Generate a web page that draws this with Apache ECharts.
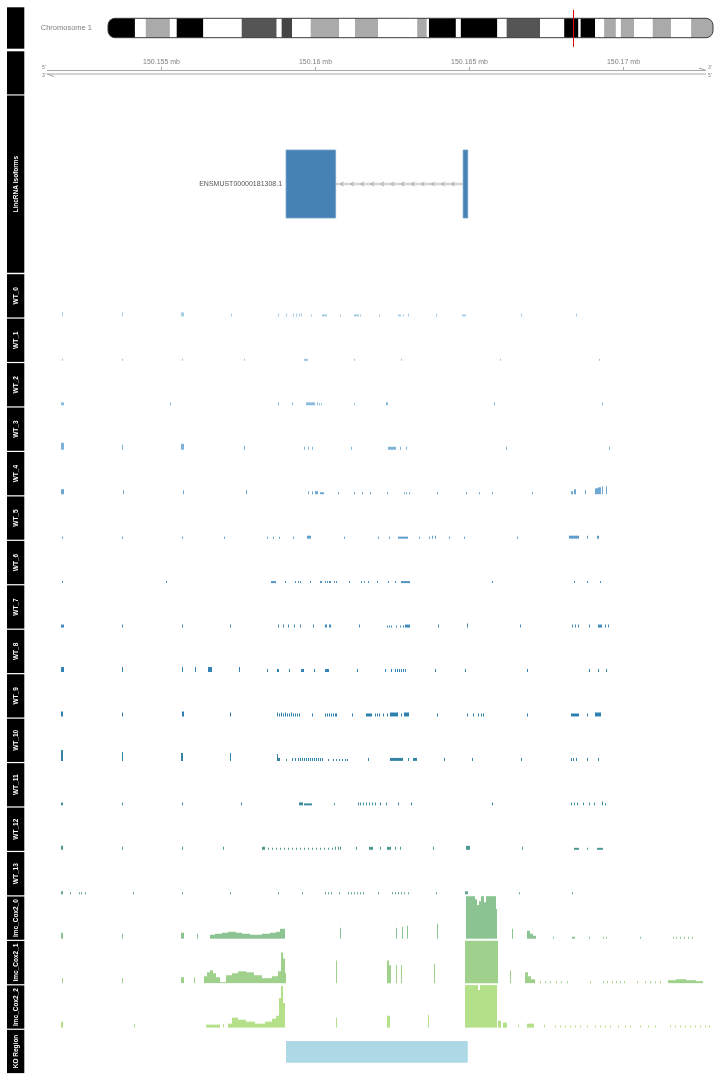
<!DOCTYPE html>
<html><head><meta charset="utf-8">
<script src="https://cdn.jsdelivr.net/npm/echarts@6/dist/echarts.min.js"></script>
<style>html,body{margin:0;padding:0;background:#fff}#c{width:720px;height:1080px}</style>
</head><body><div id="c"></div>
<script>
// ---------- data (genomic positions in kb on chromosome 1) ----------
const X_MIN = 150151.233, X_MAX = 150172.826;
const AXIS_TICKS = [150155, 150160, 150165, 150170];
const CHROM_NAME = 'Chromosome 1';
const CHROM_LEN = 195.47; // Mb
const CHROM_BANDS = [
 [0,8.7,'gpos100'],[8.7,12.2,'gneg'],[12.2,20.0,'gpos33'],[20.0,22.2,'gneg'],[22.2,30.8,'gpos100'],
 [30.8,43.2,'gneg'],[43.2,54.5,'gpos66'],[54.5,56.1,'gneg'],[56.1,59.5,'gpos75'],[59.5,65.5,'gneg'],
 [65.5,74.7,'gpos33'],[74.7,79.8,'gneg'],[79.8,87.3,'gpos33'],[87.3,99.9,'gneg'],[99.9,103.0,'gpos33'],
 [103.0,103.7,'gneg'],[103.7,112.4,'gpos100'],[112.4,114.0,'gneg'],[114.0,125.8,'gpos100'],[125.8,128.8,'gneg'],
 [128.8,139.6,'gpos66'],[139.6,147.4,'gneg'],[147.4,152.0,'gpos100'],[152.0,152.7,'gneg'],[152.7,157.4,'gpos100'],
 [157.4,160.3,'gneg'],[160.3,164.1,'gpos33'],[164.1,165.7,'gneg'],[165.7,170.0,'gpos33'],[170.0,176.0,'gneg'],
 [176.0,181.9,'gpos33'],[181.9,188.4,'gneg'],[188.4,195.47,'gpos33']
];
const CURRENT_POS_MB = 150.16;
const GENE_TRACK_TITLE = 'LincRNA Isoforms';
const TRANSCRIPT_ID = 'ENSMUST00000181308.1';
const EXONS = [[150159.06,150160.67],[150164.81,150164.96]];
const KO_TITLE = 'KO Region';
const KO_REGION = [150159.06,150164.96];

const WT_0 = [[150151.79,4],[150153.73,4],[150155.65,150155.75,4],[150157.27,3],[150158.80,3],[150159.06,3],[150159.29,3],[150159.38,3],[150159.48,3],[150159.55,3],[150159.87,2],[150160.23,150160.39,2],[150160.81,2],[150161.27,150161.43,2],[150161.46,2],[150162.08,2],[150162.70,150162.79,2],[150162.86,2],[150163.02,3],[150163.93,3],[150164.77,150164.90,2],[150166.69,3],[150168.48,3]];
const WT_1 = [[150151.79,2],[150153.73,2],[150155.68,2],[150157.70,2],[150159.64,150159.77,2],[150161.27,2],[150162.79,2],[150166.01,2],[150169.22,2]];
const WT_2 = [[150151.75,150151.85,3],[150155.29,3],[150158.80,3],[150159.25,3],[150159.71,150160.00,3],[150160.07,3],[150160.13,2],[150160.20,2],[150161.27,2],[150162.31,150162.37,3],[150165.81,3],[150169.32,3]];
const WT_3 = [[150151.75,150151.85,7],[150153.73,5],[150155.65,150155.75,6],[150157.70,4],[150159.64,3],[150159.77,3],[150159.90,3],[150161.17,3],[150162.37,150162.63,3],[150162.76,3],[150162.96,3],[150166.23,3],[150169.55,3]];
const WT_4 = [[150151.75,150151.85,5],[150153.77,4],[150155.71,4],[150157.76,4],[150159.77,3],[150159.90,3],[150160.00,150160.10,3],[150160.16,150160.29,2],[150160.75,2],[150161.27,2],[150161.53,2],[150161.79,2],[150162.34,2],[150162.89,2],[150162.96,2],[150163.05,2],[150163.96,2],[150164.90,2],[150165.33,2],[150165.75,2],[150167.05,2],[150168.31,150168.38,3],[150168.41,150168.48,5],[150168.77,4],[150169.09,150169.19,6],[150169.19,150169.29,7],[150169.32,8],[150169.45,8]];
const WT_5 = [[150151.79,2],[150153.73,2],[150155.68,2],[150157.05,2],[150158.44,2],[150158.64,2],[150158.83,2],[150159.29,2],[150159.74,150159.87,3],[150160.94,2],[150162.05,2],[150162.40,2],[150162.70,150163.02,2],[150163.38,2],[150163.70,2],[150163.80,3],[150163.90,3],[150164.35,2],[150164.84,2],[150166.56,2],[150168.25,150168.57,3],[150168.83,3],[150169.16,150169.22,3]];
const WT_6 = [[150151.79,2],[150155.19,2],[150158.57,150158.73,2],[150159.03,2],[150159.35,2],[150159.45,2],[150159.51,2],[150159.84,2],[150160.16,150160.23,2],[150160.33,2],[150160.39,2],[150160.46,150160.52,2],[150160.62,2],[150160.71,2],[150161.10,2],[150161.49,2],[150161.59,2],[150161.72,2],[150162.01,2],[150162.37,2],[150162.60,2],[150162.79,150163.08,2],[150165.75,2],[150168.41,2],[150168.83,2],[150169.25,2]];
const WT_7 = [[150151.75,150151.85,3],[150153.73,3],[150155.68,3],[150157.24,3],[150158.80,3],[150158.96,3],[150159.12,3],[150159.32,3],[150159.51,3],[150159.94,3],[150160.33,150160.39,3],[150160.46,150160.52,3],[150161.43,3],[150162.34,2],[150162.40,2],[150162.47,2],[150162.63,2],[150162.76,2],[150162.86,2],[150162.92,150163.08,3],[150163.99,3],[150164.94,4],[150166.66,3],[150168.35,3],[150168.44,3],[150168.54,3],[150168.90,3],[150169.19,150169.32,3],[150169.42,3],[150169.51,3]];
const WT_8 = [[150151.75,150151.85,5],[150153.73,5],[150155.68,5],[150156.10,5],[150156.53,150156.66,5],[150157.53,5],[150158.44,3],[150158.77,150158.83,3],[150159.16,3],[150159.55,150159.64,3],[150159.97,3],[150160.33,150160.46,3],[150161.36,3],[150162.27,3],[150162.47,3],[150162.60,3],[150162.66,3],[150162.73,3],[150162.79,3],[150162.86,3],[150162.92,3],[150163.90,3],[150164.87,3],[150166.88,3],[150168.90,3],[150169.19,3],[150169.45,3]];
const WT_9 = [[150151.75,150151.82,5],[150153.73,4],[150155.68,150155.75,5],[150157.24,4],[150158.77,4],[150158.83,3],[150158.90,4],[150158.96,3],[150159.03,4],[150159.09,3],[150159.16,3],[150159.22,4],[150159.29,3],[150159.35,3],[150159.42,3],[150159.48,3],[150159.90,3],[150160.33,3],[150160.39,3],[150160.46,3],[150160.52,3],[150160.59,3],[150160.65,3],[150160.71,3],[150161.20,3],[150161.66,150161.85,3],[150161.95,3],[150162.01,3],[150162.08,3],[150162.21,3],[150162.34,3],[150162.44,150162.70,4],[150162.79,3],[150162.89,150163.05,4],[150163.96,3],[150164.94,3],[150165.13,3],[150165.29,3],[150165.39,3],[150165.46,3],[150166.88,3],[150168.31,150168.57,3],[150168.83,3],[150169.09,150169.29,4]];
const WT_10 = [[150151.75,150151.82,11],[150153.73,9],[150155.65,150155.72,8],[150157.24,8],[150158.77,7],[150158.80,150158.86,3],[150159.06,2],[150159.25,3],[150159.35,3],[150159.45,3],[150159.51,3],[150159.58,3],[150159.64,3],[150159.71,3],[150159.77,3],[150159.84,3],[150159.90,3],[150159.97,3],[150160.03,3],[150160.10,3],[150160.16,3],[150160.23,3],[150160.42,2],[150160.59,2],[150160.68,2],[150160.78,2],[150160.88,2],[150160.97,2],[150161.04,2],[150161.72,3],[150162.44,150162.86,3],[150163.02,3],[150163.18,150163.31,3],[150164.19,3],[150165.10,3],[150166.69,3],[150168.31,3],[150168.38,3],[150168.48,3],[150168.86,3],[150169.19,3]];
const WT_11 = [[150151.75,150151.82,3],[150153.73,3],[150155.68,3],[150157.60,3],[150159.48,150159.61,3],[150159.64,150159.90,2],[150160.62,2],[150161.40,3],[150161.46,3],[150161.56,3],[150161.66,3],[150161.75,3],[150161.85,3],[150161.95,3],[150162.11,3],[150162.31,3],[150162.70,3],[150163.12,3],[150165.75,3],[150168.31,3],[150168.41,3],[150168.51,3],[150168.70,3],[150168.90,3],[150169.06,3],[150169.32,4],[150169.42,2]];
const WT_12 = [[150151.75,150151.82,4],[150153.73,3],[150155.68,3],[150157.01,3],[150158.28,150158.38,3],[150158.47,2],[150158.60,2],[150158.73,2],[150158.86,2],[150158.99,2],[150159.12,2],[150159.25,2],[150159.38,2],[150159.51,2],[150159.64,2],[150159.77,2],[150159.90,2],[150160.03,2],[150160.16,2],[150160.29,2],[150160.42,2],[150160.55,2],[150160.65,3],[150160.75,3],[150160.84,3],[150161.33,3],[150161.75,150161.88,3],[150162.11,3],[150162.34,150162.47,3],[150162.60,3],[150162.76,3],[150163.83,3],[150164.90,150165.03,4],[150166.72,3],[150168.41,150168.57,2],[150168.86,2],[150169.16,150169.35,2]];
const WT_13 = [[150151.75,150151.82,3],[150152.05,2],[150152.34,2],[150152.43,2],[150152.53,2],[150154.09,2],[150155.68,2],[150157.24,2],[150158.80,2],[150159.58,2],[150160.33,2],[150160.42,2],[150160.52,2],[150160.78,2],[150161.07,2],[150161.17,2],[150161.27,2],[150161.36,2],[150161.46,2],[150161.56,2],[150162.05,2],[150162.50,2],[150162.60,2],[150162.70,2],[150162.79,2],[150162.89,2],[150163.02,2],[150163.93,2],[150164.87,150164.97,3],[150166.62,2],[150168.35,2]];
const LMC_COX2_0 = [[150151.75,150151.82,6],[150153.73,5],[150155.65,150155.75,6],[150156.17,5],[150156.59,150156.75,4],[150156.75,150156.98,5],[150156.98,150157.18,6],[150157.18,150157.44,7],[150157.44,150157.63,6],[150157.63,150157.89,5],[150157.89,150158.28,4],[150158.28,150158.54,5],[150158.54,150158.73,6],[150158.73,150158.86,7],[150158.86,150159.03,10],[150160.81,11],[150162.63,11],[150162.83,12],[150162.99,13],[150163.96,15],[150164.90,150165.20,43],[150165.20,150165.26,40],[150165.26,150165.33,34],[150165.33,150165.39,38],[150165.39,150165.49,43],[150165.49,150165.55,37],[150165.55,150165.88,43],[150165.88,150165.91,30],[150166.40,10],[150166.88,150166.98,8],[150166.98,150167.08,5],[150167.08,150167.18,3],[150167.73,2],[150168.35,150168.44,2],[150168.90,2],[150169.35,2],[150169.45,2],[150170.58,2],[150171.65,2],[150171.75,2],[150171.85,2],[150171.98,2],[150172.11,2],[150172.24,2]];
const LMC_COX2_1 = [[150151.79,5],[150153.73,5],[150155.65,150155.75,6],[150156.07,6],[150156.40,150156.49,7],[150156.49,150156.59,11],[150156.59,150156.69,13],[150156.69,150156.79,10],[150156.79,150156.92,6],[150156.92,150157.11,1],[150157.11,150157.30,8],[150157.30,150157.50,10],[150157.50,150157.76,12],[150157.76,150158.02,11],[150158.02,150158.28,8],[150158.28,150158.60,5],[150158.60,150158.80,7],[150158.80,150158.90,12],[150158.90,150158.96,31],[150158.96,150159.03,25],[150159.03,150159.06,10],[150160.68,23],[150162.34,150162.40,23],[150162.40,150162.47,18],[150162.63,18],[150162.79,18],[150163.86,20],[150164.87,150165.94,43],[150166.36,13],[150166.82,150166.92,11],[150166.92,150167.01,7],[150167.01,150167.14,4],[150167.31,2],[150167.47,2],[150167.63,2],[150167.83,2],[150167.99,2],[150168.18,2],[150168.93,2],[150169.35,2],[150169.48,2],[150169.64,2],[150169.77,2],[150169.90,2],[150170.03,2],[150170.46,2],[150170.72,2],[150170.88,2],[150171.04,2],[150171.20,2],[150171.46,150171.72,3],[150171.72,150172.05,4],[150172.05,150172.37,3],[150172.37,150172.60,2]];
const LMC_COX2_2 = [[150151.75,150151.82,6],[150154.12,4],[150156.46,150156.66,3],[150156.66,150156.92,3],[150157.01,4],[150157.18,150157.30,4],[150157.30,150157.50,10],[150157.50,150157.76,8],[150157.76,150158.05,6],[150158.05,150158.38,4],[150158.38,150158.60,6],[150158.60,150158.73,9],[150158.73,150158.83,12],[150158.83,150158.90,30],[150158.90,150158.96,42],[150158.96,150159.03,25],[150160.68,10],[150162.34,150162.44,12],[150163.67,13],[150164.87,150165.29,43],[150165.29,150165.36,38],[150165.36,150165.91,43],[150165.94,150166.04,7],[150166.10,150166.23,5],[150166.59,3],[150166.88,150167.11,4],[150167.44,3],[150167.79,2],[150167.96,2],[150168.12,2],[150168.28,2],[150168.44,2],[150168.61,2],[150168.86,2],[150169.09,2],[150169.25,2],[150169.42,2],[150169.58,2],[150169.84,2],[150170.07,2],[150170.23,2],[150170.55,2],[150170.81,2],[150171.04,2],[150171.53,2],[150171.69,2],[150171.85,2],[150172.01,2],[150172.18,2],[150172.34,2],[150172.50,2],[150172.66,2],[150172.80,2]];
const Y_MAX = 43;

const TRACK_NAMES = ['WT_0','WT_1','WT_2','WT_3','WT_4','WT_5','WT_6','WT_7','WT_8','WT_9','WT_10','WT_11','WT_12','WT_13','lmc_Cox2_0','lmc_Cox2_1','lmc_Cox2_2'];
const TRACK_DATA = [WT_0,WT_1,WT_2,WT_3,WT_4,WT_5,WT_6,WT_7,WT_8,WT_9,WT_10,WT_11,WT_12,WT_13,LMC_COX2_0,LMC_COX2_1,LMC_COX2_2];

// ---------- styles / layout ----------
const TRACK_COLORS = ['#a6cde4','#9bc5e0','#8bbcdc','#7db3d8','#6da8d2','#5e9ecc','#4f94c5','#408abf','#3383b9','#2f80b1','#3384a5','#3c8d9d','#4b9991','#5ea78b','#8bc492','#9fd18d','#b3e088'];
const STAIN_COLORS = {gneg:'#ffffff', gpos33:'#aaaaaa', gpos66:'#555555', gpos75:'#444444', gpos100:'#000000'};
const FONT = 'Liberation Sans, Arial, Helvetica, sans-serif';
const DATA_LEFT = 45, DATA_WIDTH = 665;
const TRACK_TOP0 = 273.6, TRACK_H = 44.45;

const grids = [], xAxes = [], yAxes = [], series = [], graphics = [];
function addGrid(left, top, width, height, xmin, xmax, ymin, ymax) {
  const i = grids.length;
  grids.push({left: left, top: top, width: width, height: height, containLabel: false, show: false});
  xAxes.push({type: 'value', gridIndex: i, min: xmin, max: xmax, show: false});
  yAxes.push({type: 'value', gridIndex: i, min: ymin, max: ymax, show: false});
  return i;
}

// chromosome ideogram
const gChrom = addGrid(108, 18.3, 605, 19.4, 0, CHROM_LEN, 0, 1);
series.push({
  type: 'custom', xAxisIndex: gChrom, yAxisIndex: gChrom, clip: false, silent: true,
  data: CHROM_BANDS.map((b, i) => [b[0], b[1], i]),
  renderItem: function (p, api) {
    const a = api.coord([api.value(0), 1]), b = api.coord([api.value(1), 0]);
    const idx = api.value(2);
    let r = 0;
    if (idx === 0) r = [7, 0, 0, 7];
    if (idx === CHROM_BANDS.length - 1) r = [0, 7, 7, 0];
    return {type: 'rect', shape: {x: a[0], y: a[1], width: b[0] - a[0], height: b[1] - a[1], r: r},
      style: {fill: STAIN_COLORS[CHROM_BANDS[idx][2]]}};
  }
});
series.push({
  type: 'custom', xAxisIndex: gChrom, yAxisIndex: gChrom, clip: false, silent: true,
  data: [[0, CHROM_LEN]],
  renderItem: function (p, api) {
    const a = api.coord([api.value(0), 1]), b = api.coord([api.value(1), 0]);
    return {type: 'rect', shape: {x: a[0], y: a[1], width: b[0] - a[0], height: b[1] - a[1], r: 7},
      style: {fill: 'none', stroke: '#3a3a3a', lineWidth: 1}};
  }
});
series.push({
  type: 'custom', xAxisIndex: gChrom, yAxisIndex: gChrom, clip: false, silent: true,
  data: [[CURRENT_POS_MB]],
  renderItem: function (p, api) {
    const a = api.coord([api.value(0), 1]), b = api.coord([api.value(0), 0]);
    const x = Math.round(a[0]) + 0.5;
    return {type: 'line', shape: {x1: x, y1: a[1] - 8.3, x2: x, y2: b[1] + 9}, style: {stroke: '#e00000', lineWidth: 1}};
  }
});
graphics.push({type: 'text', x: 92, y: 28, style: {text: CHROM_NAME, font: '7.5px ' + FONT, fill: '#7f7f7f', align: 'right', verticalAlign: 'middle'}});

// genome axis
const gAxis = addGrid(DATA_LEFT, 70.5, DATA_WIDTH, 3.5, X_MIN, X_MAX, 0, 1);
series.push({
  type: 'custom', xAxisIndex: gAxis, yAxisIndex: gAxis, clip: false, silent: true,
  data: [[X_MIN, X_MAX]],
  renderItem: function (p, api) {
    const a = api.coord([api.value(0), 1]), b = api.coord([api.value(1), 0]);
    const x0 = a[0] + 2, x1 = b[0] - 4, y0 = a[1], y1 = b[1];
    const st = {stroke: '#a8a8a8', lineWidth: 1.2};
    const tx = {font: '5px ' + FONT, fill: '#808080', verticalAlign: 'middle'};
    return {type: 'group', children: [
      {type: 'line', shape: {x1: x0, y1: y0, x2: x1, y2: y0}, style: st},
      {type: 'line', shape: {x1: x0, y1: y1, x2: x1, y2: y1}, style: st},
      {type: 'line', shape: {x1: x1, y1: y0, x2: x1 - 7, y2: y0 - 2.5}, style: st},
      {type: 'line', shape: {x1: x0, y1: y1, x2: x0 + 7, y2: y1 + 2.5}, style: st},
      {type: 'text', style: Object.assign({text: "5'", x: x0 - 5, y: y0 - 2.5}, tx)},
      {type: 'text', style: Object.assign({text: "3'", x: x0 - 5, y: y1 + 2}, tx)},
      {type: 'text', style: Object.assign({text: "3'", x: x1 + 2, y: y0 - 2.5}, tx)},
      {type: 'text', style: Object.assign({text: "5'", x: x1 + 2, y: y1 + 2}, tx)}
    ]};
  }
});
series.push({
  type: 'custom', xAxisIndex: gAxis, yAxisIndex: gAxis, clip: false, silent: true,
  data: AXIS_TICKS.map(t => [t]),
  renderItem: function (p, api) {
    const a = api.coord([api.value(0), 1]);
    const x = Math.round(a[0]) + 0.5;
    const lab = String(+(api.value(0) / 1000).toFixed(3)) + ' mb';
    return {type: 'group', children: [
      {type: 'line', shape: {x1: x, y1: a[1], x2: x, y2: a[1] - 3.5}, style: {stroke: '#a8a8a8', lineWidth: 1}},
      {type: 'text', style: {text: lab, x: x, y: a[1] - 8.5, font: '7px ' + FONT, fill: '#808080', align: 'center', verticalAlign: 'middle'}}
    ]};
  }
});

// gene model track
const gGene = addGrid(DATA_LEFT, 95, DATA_WIDTH, 178, X_MIN, X_MAX, 0, 1);
series.push({
  type: 'custom', xAxisIndex: gGene, yAxisIndex: gGene, clip: false, silent: true,
  data: EXONS.slice(0, -1).map((e, i) => [e[1], EXONS[i + 1][0]]),
  renderItem: function (p, api) {
    const a = api.coord([api.value(0), 0.5]), b = api.coord([api.value(1), 0.5]);
    const y = a[1];
    const kids = [{type: 'line', shape: {x1: a[0], y1: y, x2: b[0], y2: y}, style: {stroke: '#d4d4d4', lineWidth: 2.5}}];
    for (let x = a[0] + 5; x < b[0] - 6; x += 10.1) {
      kids.push({type: 'polyline', shape: {points: [[x + 3, y - 2], [x, y], [x + 3, y + 2]]}, style: {stroke: '#a0a0a0', lineWidth: 0.9, fill: 'none'}});
    }
    return {type: 'group', children: kids};
  }
});
series.push({
  type: 'custom', xAxisIndex: gGene, yAxisIndex: gGene, clip: false, silent: true,
  data: EXONS.map(e => [e[0], e[1]]),
  renderItem: function (p, api) {
    const a = api.coord([api.value(0), 0.691]), b = api.coord([api.value(1), 0.309]);
    return {type: 'rect', shape: {x: a[0], y: a[1], width: b[0] - a[0], height: b[1] - a[1]},
      style: {fill: '#4682b4', stroke: '#6e9fca', lineWidth: 0.8}};
  }
});
series.push({
  type: 'custom', xAxisIndex: gGene, yAxisIndex: gGene, clip: false, silent: true,
  data: [[EXONS[0][0], 0.5]],
  renderItem: function (p, api) {
    const a = api.coord([api.value(0), api.value(1)]);
    return {type: 'text', style: {text: TRANSCRIPT_ID, x: a[0] - 4, y: a[1], font: '7px ' + FONT, fill: '#555555', align: 'right', verticalAlign: 'middle'}};
  }
});

// data tracks
function renderBar(p, api) {
  const a = api.coord([api.value(0), api.value(2)]);
  const b = api.coord([api.value(1), 0]);
  const x0 = Math.round(a[0]);
  let w = Math.round(b[0]) - x0; if (w < 1) w = 1;
  return {type: 'rect', shape: {x: x0, y: a[1], width: w, height: b[1] - a[1]}, style: {fill: api.visual('color')}};
}
TRACK_DATA.forEach((arr, i) => {
  const top = TRACK_TOP0 + i * TRACK_H;
  const g = addGrid(DATA_LEFT, top + 0.3, DATA_WIDTH, 42.5, X_MIN, X_MAX, 0, Y_MAX);
  series.push({
    type: 'custom', name: TRACK_NAMES[i], xAxisIndex: g, yAxisIndex: g, silent: true,
    itemStyle: {color: TRACK_COLORS[i]},
    data: arr.map(d => d.length === 2 ? [d[0] - 0.012, d[0] + 0.012, d[1]] : d),
    renderItem: renderBar
  });
});

// KO region track
const koTop = TRACK_TOP0 + TRACK_NAMES.length * TRACK_H;
const gKO = addGrid(DATA_LEFT, koTop, DATA_WIDTH, TRACK_H, X_MIN, X_MAX, 0, 1);
series.push({
  type: 'custom', xAxisIndex: gKO, yAxisIndex: gKO, silent: true,
  data: [[KO_REGION[0], KO_REGION[1]]],
  renderItem: function (p, api) {
    const a = api.coord([api.value(0), 0.735]), b = api.coord([api.value(1), 0.246]);
    return {type: 'rect', shape: {x: a[0], y: a[1], width: b[0] - a[0], height: b[1] - a[1]}, style: {fill: '#add8e6'}};
  }
});

// title panels
const panels = [['', 6.7, 49.3], ['', 50.7, 95], [GENE_TRACK_TITLE, 95, 273.3]];
TRACK_NAMES.concat([KO_TITLE]).forEach((n, i) => {
  const t = TRACK_TOP0 + i * TRACK_H;
  panels.push([n, t, t + TRACK_H]);
});
panels.forEach(pn => {
  const t = pn[1], b = pn[2];
  graphics.push({type: 'rect', shape: {x: 7, y: t + 0.6, width: 17.3, height: b - t - 1.2}, style: {fill: '#000000'}, silent: true});
  if (pn[0]) {
    graphics.push({type: 'text', x: 15.8, y: (t + b) / 2, rotation: Math.PI / 2, silent: true,
      style: {text: pn[0], font: 'bold 6.5px ' + FONT, fill: '#ffffff', align: 'center', verticalAlign: 'middle'}});
  }
});

const chart = echarts.init(document.getElementById('c'), null, {renderer: 'canvas'});
chart.setOption({animation: false, backgroundColor: '#ffffff', grid: grids, xAxis: xAxes, yAxis: yAxes, series: series, graphic: graphics});
</script></body></html>
